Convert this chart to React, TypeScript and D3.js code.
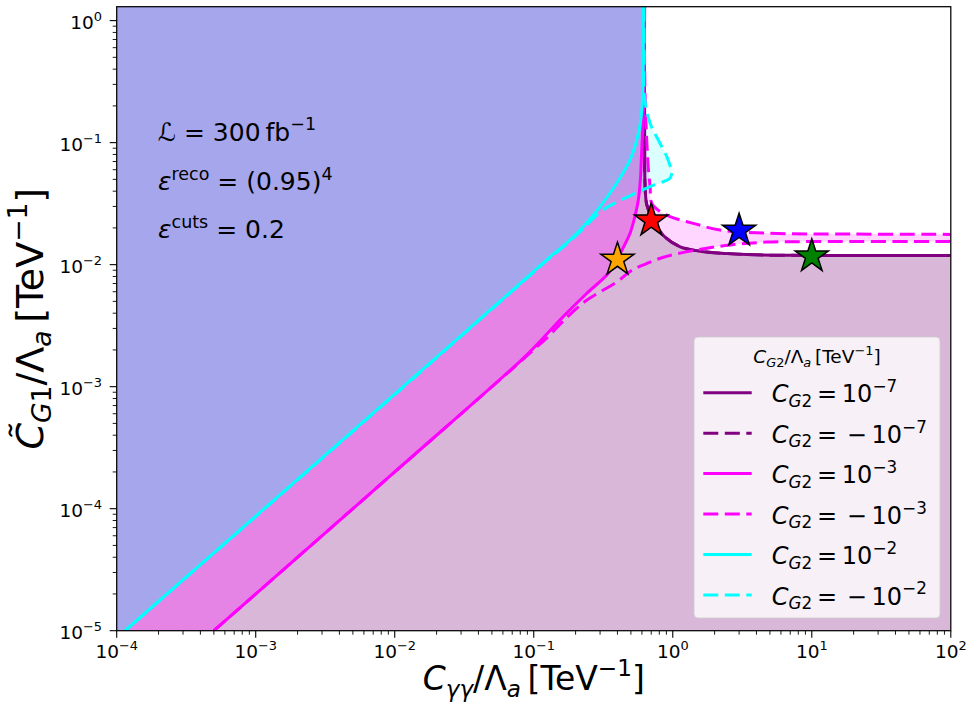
import React, { useRef, useEffect } from 'react';
import * as d3 from 'd3';

type Pt = [number, number];

// tick decades
const xDecades = [-4, -3, -2, -1, 0, 1, 2];
const yDecades = [-5, -4, -3, -2, -1, 0];

// boundary curves (x = C_gg/Lambda, y = C_G1/Lambda)
// C_G2 = +-1e-7 (purple)
const cg2Tiny: Pt[] = [
  [0.625, 1.3], [0.626, 0.3], [0.628, 0.1], [0.632, 0.045], [0.65, 0.031], [0.7, 0.025],
  [0.77, 0.0205], [0.88, 0.0168], [1.13, 0.014], [1.57, 0.0129], [3.4, 0.0121], [10, 0.0119], [100, 0.01186],
];
// C_G2 = 1e-3 (magenta, solid)
const cg2Mid: Pt[] = [
  [5e-4, 1e-5], [1e-2, 2e-4], [0.08, 1.62e-3], [0.105, 2.2e-3], [0.163, 3.75e-3], [0.24, 5.8e-3],
  [0.344, 8.5e-3], [0.4, 0.0113], [0.45, 0.0145], [0.493, 0.0181], [0.53, 0.024], [0.5655, 0.034],
  [0.585, 0.05], [0.598, 0.087], [0.612, 0.15], [0.622, 0.3], [0.628, 1.3],
];
// C_G2 = -1e-3 (magenta, dashed): upper and lower branch
const cg2MidNegUpper: Pt[] = [
  [0.62, 1.3], [0.627, 0.5], [0.633, 0.224], [0.65, 0.105], [0.667, 0.062], [0.687, 0.0436],
  [0.706, 0.0318], [0.8, 0.0275], [0.956, 0.0247], [1.406, 0.0218], [2.19, 0.0192], [4.74, 0.0181],
  [20, 0.0178], [100, 0.0177],
];
const cg2MidNegLower: Pt[] = [
  [5e-4, 1e-5], [1e-2, 2e-4], [0.08, 1.6e-3], [0.105, 2.12e-3], [0.124, 2.5e-3], [0.163, 3.45e-3],
  [0.24, 5.1e-3], [0.395, 7.2e-3], [0.493, 8.8e-3], [0.615, 9.95e-3], [0.856, 0.0115], [1.49, 0.0132],
  [2.58, 0.0145], [4.74, 0.0153], [10, 0.01545], [100, 0.01545],
];
// C_G2 = 1e-2 (cyan, solid)
const cg2Big: Pt[] = [
  [1.15e-4, 1e-5], [1e-2, 8.7e-4], [0.1, 0.0088], [0.131, 0.0116], [0.1726, 0.015], [0.2277, 0.0205],
  [0.3, 0.0299], [0.395, 0.0465], [0.493, 0.0721], [0.566, 0.119], [0.595, 0.17], [0.608, 0.25],
  [0.613, 0.5], [0.614, 1.3],
];
// C_G2 = -1e-2 (cyan, dashed)
const cg2BigNeg: Pt[] = [
  [0.62, 1.3], [0.623, 0.5], [0.625, 0.238], [0.687, 0.144], [0.787, 0.105], [0.906, 0.0767],
  [0.96, 0.064], [0.984, 0.0578], [0.96, 0.0515], [0.88, 0.0485], [0.687, 0.0436], [0.5, 0.037],
  [0.395, 0.0325], [0.3, 0.027], [0.2277, 0.0198], [0.1726, 0.0148], [0.131, 0.0114], [0.1, 0.0087],
  [1e-2, 8.6e-4], [1.15e-4, 1e-5],
];

// benchmark points
const benchX = [0.4, 0.7, 3, 10];
const benchY = [0.011, 0.023, 0.019, 0.0117];
const benchColors = ['#ffa500', '#ff0000', '#0000ff', '#008000'];

// legend
const legendExp = ['−7', '−7', '−3', '−3', '−2', '−2'];
const legendNeg = [false, true, false, true, false, true];
const legendColors = ['#800080', '#800080', '#ff00ff', '#ff00ff', '#00ffff', '#00ffff'];

type Part = { t: string; i?: boolean; s?: number; f?: number };

function math(sel: any, parts: Part[], size: number) {
  let cur = 0;
  parts.forEach(p => {
    const off = (p.s || 0) * size;
    const ts = sel.append('tspan')
      .attr('dy', off - cur)
      .attr('font-size', (p.f || 1) * size)
      .text(p.t);
    if (p.i) ts.attr('font-style', 'italic');
    cur = off;
  });
}

const SUP = -0.42;
const SUB = 0.2;

const App = () => {
  const ref = useRef<SVGSVGElement>(null);

  useEffect(() => {
    document.body.style.margin = '0';
    const svg = d3.select(ref.current);
    svg.selectAll('*').remove();
    svg.attr('font-family', 'DejaVu Sans').style('white-space', 'pre');

    const L = 116.7, R = 950.8, T = 6.7, B = 630.7;
    const x = d3.scaleLog().domain([1e-4, 1e2]).range([L, R]);
    const y = d3.scaleLog().domain([1e-5, 1.3]).range([B, T]);

    const line = d3.line<Pt>()
      .x(d => x(d[0]))
      .y(d => y(d[1]))
      .curve(d3.curveCatmullRom.alpha(0.5));
    const pt = (a: number, b: number) => `L${x(a)},${y(b)}`;

    svg.append('rect').attr('width', 971).attr('height', 714).attr('fill', '#fff');

    svg.append('defs').append('clipPath').attr('id', 'plot')
      .append('rect').attr('x', L).attr('y', T).attr('width', R - L).attr('height', B - T);

    const g = svg.append('g').attr('clip-path', 'url(#plot)');

    // regions
    const lowerRev = cg2MidNegLower.slice().reverse();
    g.append('path')
      .attr('d', line(cg2MidNegUpper) + line(lowerRev)!.replace('M', 'L') + pt(1e-4, 1e-5) + pt(1e-4, 1.3) + 'Z')
      .attr('fill', '#ffd6ff');
    g.append('path')
      .attr('d', line(cg2Tiny) + pt(100, 1e-5) + pt(1e-4, 1e-5) + pt(1e-4, 1.3) + 'Z')
      .attr('fill', '#d8b7d8');
    g.append('path')
      .attr('d', line(cg2Mid) + pt(1e-4, 1.3) + pt(1e-4, 1e-5) + 'Z')
      .attr('fill', '#e584e4');
    g.append('path')
      .attr('d', line(cg2BigNeg) + pt(1e-4, 1e-5) + pt(1e-4, 1.3) + 'Z')
      .attr('fill', '#00ffff').attr('fill-opacity', 0.14);
    g.append('path')
      .attr('d', line(cg2Big) + pt(1e-4, 1.3) + pt(1e-4, 1e-5) + 'Z')
      .attr('fill', '#a6a6ec');

    // lines
    const lw = 3;
    const dash = '15,6.5';
    const curves: [Pt[], string, boolean][] = [
      [cg2Tiny, legendColors[0], false],
      [cg2Tiny, legendColors[1], true],
      [cg2Mid, legendColors[2], false],
      [cg2MidNegUpper, legendColors[3], true],
      [cg2MidNegLower, legendColors[3], true],
      [cg2Big, legendColors[4], false],
      [cg2BigNeg, legendColors[5], true],
    ];
    curves.forEach(([pts, c, dashed]) => {
      g.append('path')
        .attr('d', line(pts))
        .attr('fill', 'none')
        .attr('stroke', c)
        .attr('stroke-width', lw)
        .attr('stroke-dasharray', dashed ? dash : null);
    });

    // benchmark stars
    const star = d3.symbol(d3.symbolStar, 17.5 * 17.5 / 0.8908130915292852);
    benchX.forEach((bx, i) => {
      svg.append('path')
        .attr('d', star())
        .attr('transform', `translate(${x(bx)},${y(benchY[i])})`)
        .attr('fill', benchColors[i])
        .attr('stroke', '#000')
        .attr('stroke-width', 1.5)
        .attr('stroke-linejoin', 'miter');
    });

    // frame
    svg.append('rect')
      .attr('x', L).attr('y', T).attr('width', R - L).attr('height', B - T)
      .attr('fill', 'none').attr('stroke', '#000').attr('stroke-width', 1.25);

    // ticks
    const tickFs = 18.5;
    const minor = [2, 3, 4, 5, 6, 7, 8, 9];
    xDecades.forEach(d => {
      const v = Math.pow(10, d);
      svg.append('line').attr('x1', x(v)).attr('x2', x(v)).attr('y1', B).attr('y2', B + 7)
        .attr('stroke', '#000').attr('stroke-width', 1.1);
      const t = svg.append('text').attr('x', x(v)).attr('y', B + 27).attr('text-anchor', 'middle')
        .attr('fill', '#000');
      math(t, [{ t: '10' }, { t: d < 0 ? `−${-d}` : `${d}`, s: SUP, f: 0.7 }], tickFs);
      if (d < 2) {
        minor.forEach(m => {
          const mv = m * v;
          svg.append('line').attr('x1', x(mv)).attr('x2', x(mv)).attr('y1', B).attr('y2', B + 4)
            .attr('stroke', '#000').attr('stroke-width', 0.9);
        });
      }
    });
    yDecades.forEach(d => {
      const v = Math.pow(10, d);
      svg.append('line').attr('x1', L - 7).attr('x2', L).attr('y1', y(v)).attr('y2', y(v))
        .attr('stroke', '#000').attr('stroke-width', 1.1);
      const t = svg.append('text').attr('x', 102).attr('y', y(v) + 8).attr('text-anchor', 'end')
        .attr('fill', '#000');
      math(t, [{ t: '10' }, { t: d < 0 ? `−${-d}` : `${d}`, s: SUP, f: 0.7 }], tickFs);
      minor.forEach(m => {
        const mv = m * v;
        if (mv > 1.3) return;
        svg.append('line').attr('x1', L - 4).attr('x2', L).attr('y1', y(mv)).attr('y2', y(mv))
          .attr('stroke', '#000').attr('stroke-width', 0.9);
      });
    });

    // axis labels
    const xl = svg.append('text').attr('x', (L + R) / 2).attr('y', 690).attr('text-anchor', 'middle');
    math(xl, [
      { t: 'C', i: true }, { t: 'γγ', i: true, s: SUB, f: 0.7 }, { t: '/Λ' },
      { t: 'a', i: true, s: SUB, f: 0.7 }, { t: '\u2009[TeV' }, { t: '−1', s: SUP, f: 0.7 }, { t: ']' },
    ], 33);
    const yl = svg.append('text').attr('transform', `translate(43,${(T + B) / 2}) rotate(-90)`)
      .attr('text-anchor', 'middle');
    math(yl, [
      { t: 'C\u0303', i: true }, { t: 'G', i: true, s: SUB, f: 0.7 }, { t: '1', s: SUB, f: 0.7 }, { t: '/Λ' },
      { t: 'a', i: true, s: SUB, f: 0.7 }, { t: '\u2009[TeV' }, { t: '−1', s: SUP, f: 0.7 }, { t: ']' },
    ], 38);

    // annotations
    const annFs = 25;
    const a1 = svg.append('text').attr('x', 158).attr('y', 140.5);
    math(a1, [{ t: 'ℒ = 300\u2009fb' }, { t: '−1', s: SUP, f: 0.7 }], annFs);
    const a2 = svg.append('text').attr('x', 158).attr('y', 190);
    math(a2, [{ t: 'ε', i: true }, { t: 'reco', s: SUP, f: 0.7 }, { t: ' = (0.95)' }, { t: '4', s: SUP, f: 0.7 }], annFs);
    const a3 = svg.append('text').attr('x', 158).attr('y', 238);
    math(a3, [{ t: 'ε', i: true }, { t: 'cuts', s: SUP, f: 0.7 }, { t: ' = 0.2' }], annFs);

    // legend
    const lg = svg.append('g');
    lg.append('rect').attr('x', 694).attr('y', 337).attr('width', 246).attr('height', 281)
      .attr('rx', 4).attr('fill', '#fff').attr('fill-opacity', 0.8)
      .attr('stroke', '#cccccc').attr('stroke-opacity', 0.8).attr('stroke-width', 1);
    const lt = lg.append('text').attr('x', 817).attr('y', 363).attr('text-anchor', 'middle');
    math(lt, [
      { t: 'C', i: true }, { t: 'G', i: true, s: SUB, f: 0.7 }, { t: '2', s: SUB, f: 0.7 }, { t: '/Λ' },
      { t: 'a', i: true, s: SUB, f: 0.7 }, { t: '\u2009[TeV' }, { t: '−1', s: SUP, f: 0.7 }, { t: ']' },
    ], 18.5);
    legendExp.forEach((e, i) => {
      const ly = 392.7 + i * 40.46;
      lg.append('line').attr('x1', 703.3).attr('x2', 751.7).attr('y1', ly).attr('y2', ly)
        .attr('stroke', legendColors[i]).attr('stroke-width', lw)
        .attr('stroke-dasharray', legendNeg[i] ? dash : null);
      const tx = lg.append('text').attr('x', 771.7).attr('y', ly + 9.5);
      math(tx, [
        { t: 'C', i: true }, { t: 'G', i: true, s: SUB, f: 0.7 }, { t: '2', s: SUB, f: 0.7 },
        { t: legendNeg[i] ? '\u2009=\u2009\u2009−\u200910' : '\u2009=\u200910' }, { t: e, s: SUP, f: 0.7 },
      ], 24);
    });
  }, []);

  return <svg ref={ref} width={971} height={714} style={{ display: 'block' }} />;
};

export default App;
